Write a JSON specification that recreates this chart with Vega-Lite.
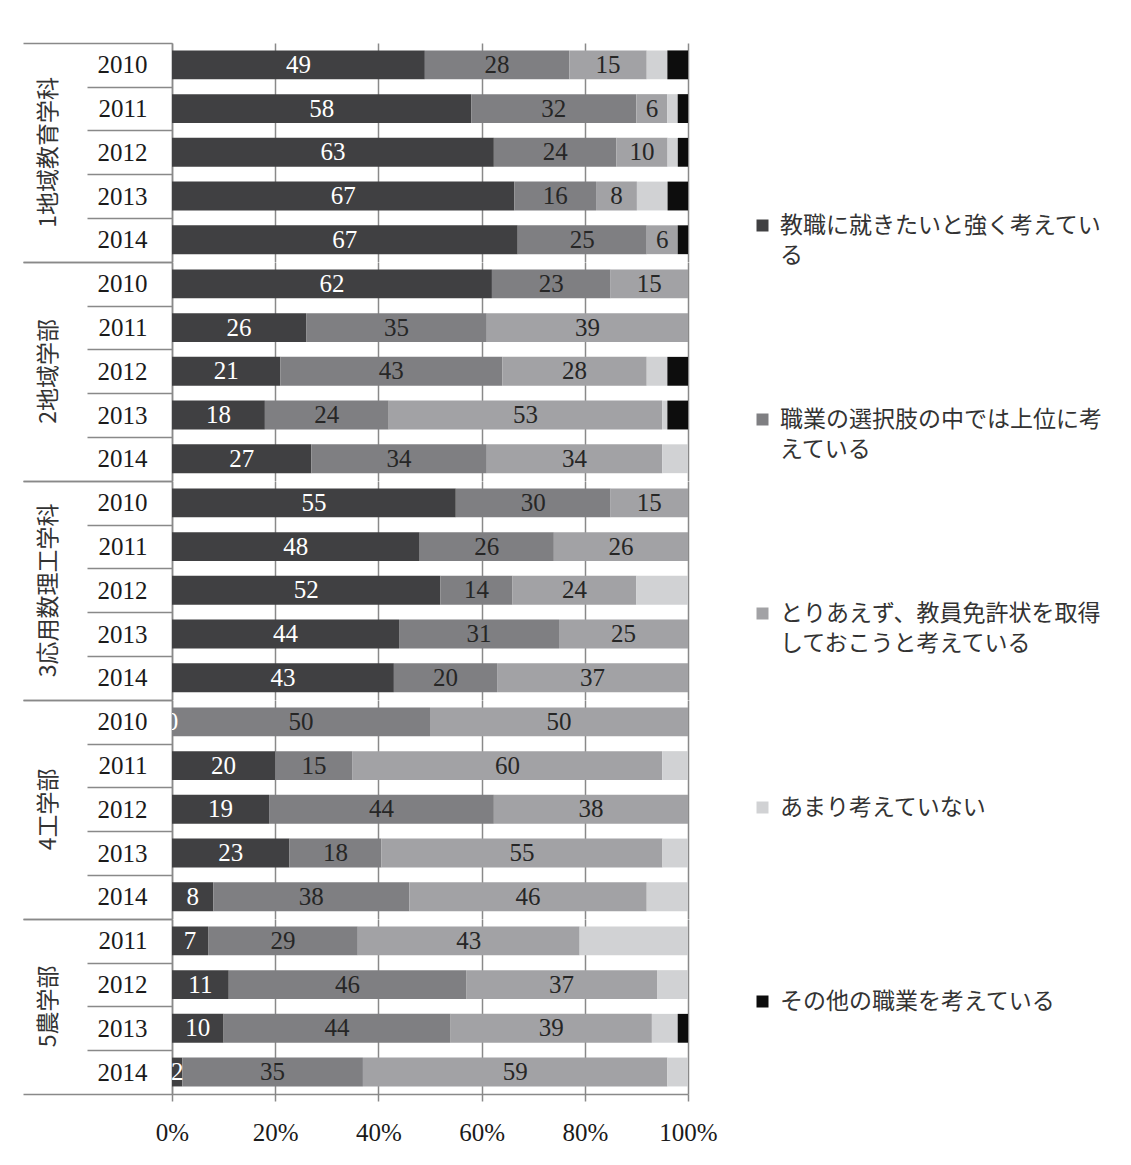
{
  "$schema": "https://vega.github.io/schema/vega-lite/v6.json",
  "background": "white",
  "padding": {"left": 22, "top": 42, "right": 0, "bottom": 10},
  "datasets": {
    "answers": [
      {"g": "1地域教育学科", "y": 2010, "k": 1, "v": 49}, {"g": "1地域教育学科", "y": 2010, "k": 2, "v": 28}, {"g": "1地域教育学科", "y": 2010, "k": 3, "v": 15}, {"g": "1地域教育学科", "y": 2010, "k": 4, "v": 4}, {"g": "1地域教育学科", "y": 2010, "k": 5, "v": 4},
      {"g": "1地域教育学科", "y": 2011, "k": 1, "v": 58}, {"g": "1地域教育学科", "y": 2011, "k": 2, "v": 32}, {"g": "1地域教育学科", "y": 2011, "k": 3, "v": 6}, {"g": "1地域教育学科", "y": 2011, "k": 4, "v": 2}, {"g": "1地域教育学科", "y": 2011, "k": 5, "v": 2},
      {"g": "1地域教育学科", "y": 2012, "k": 1, "v": 63}, {"g": "1地域教育学科", "y": 2012, "k": 2, "v": 24}, {"g": "1地域教育学科", "y": 2012, "k": 3, "v": 10}, {"g": "1地域教育学科", "y": 2012, "k": 4, "v": 2}, {"g": "1地域教育学科", "y": 2012, "k": 5, "v": 2},
      {"g": "1地域教育学科", "y": 2013, "k": 1, "v": 67}, {"g": "1地域教育学科", "y": 2013, "k": 2, "v": 16}, {"g": "1地域教育学科", "y": 2013, "k": 3, "v": 8}, {"g": "1地域教育学科", "y": 2013, "k": 4, "v": 6}, {"g": "1地域教育学科", "y": 2013, "k": 5, "v": 4},
      {"g": "1地域教育学科", "y": 2014, "k": 1, "v": 67}, {"g": "1地域教育学科", "y": 2014, "k": 2, "v": 25}, {"g": "1地域教育学科", "y": 2014, "k": 3, "v": 6}, {"g": "1地域教育学科", "y": 2014, "k": 5, "v": 2},
      {"g": "2地域学部", "y": 2010, "k": 1, "v": 62}, {"g": "2地域学部", "y": 2010, "k": 2, "v": 23}, {"g": "2地域学部", "y": 2010, "k": 3, "v": 15},
      {"g": "2地域学部", "y": 2011, "k": 1, "v": 26}, {"g": "2地域学部", "y": 2011, "k": 2, "v": 35}, {"g": "2地域学部", "y": 2011, "k": 3, "v": 39},
      {"g": "2地域学部", "y": 2012, "k": 1, "v": 21}, {"g": "2地域学部", "y": 2012, "k": 2, "v": 43}, {"g": "2地域学部", "y": 2012, "k": 3, "v": 28}, {"g": "2地域学部", "y": 2012, "k": 4, "v": 4}, {"g": "2地域学部", "y": 2012, "k": 5, "v": 4},
      {"g": "2地域学部", "y": 2013, "k": 1, "v": 18}, {"g": "2地域学部", "y": 2013, "k": 2, "v": 24}, {"g": "2地域学部", "y": 2013, "k": 3, "v": 53}, {"g": "2地域学部", "y": 2013, "k": 4, "v": 1}, {"g": "2地域学部", "y": 2013, "k": 5, "v": 4},
      {"g": "2地域学部", "y": 2014, "k": 1, "v": 27}, {"g": "2地域学部", "y": 2014, "k": 2, "v": 34}, {"g": "2地域学部", "y": 2014, "k": 3, "v": 34}, {"g": "2地域学部", "y": 2014, "k": 4, "v": 5},
      {"g": "3応用数理工学科", "y": 2010, "k": 1, "v": 55}, {"g": "3応用数理工学科", "y": 2010, "k": 2, "v": 30}, {"g": "3応用数理工学科", "y": 2010, "k": 3, "v": 15},
      {"g": "3応用数理工学科", "y": 2011, "k": 1, "v": 48}, {"g": "3応用数理工学科", "y": 2011, "k": 2, "v": 26}, {"g": "3応用数理工学科", "y": 2011, "k": 3, "v": 26},
      {"g": "3応用数理工学科", "y": 2012, "k": 1, "v": 52}, {"g": "3応用数理工学科", "y": 2012, "k": 2, "v": 14}, {"g": "3応用数理工学科", "y": 2012, "k": 3, "v": 24}, {"g": "3応用数理工学科", "y": 2012, "k": 4, "v": 10},
      {"g": "3応用数理工学科", "y": 2013, "k": 1, "v": 44}, {"g": "3応用数理工学科", "y": 2013, "k": 2, "v": 31}, {"g": "3応用数理工学科", "y": 2013, "k": 3, "v": 25},
      {"g": "3応用数理工学科", "y": 2014, "k": 1, "v": 43}, {"g": "3応用数理工学科", "y": 2014, "k": 2, "v": 20}, {"g": "3応用数理工学科", "y": 2014, "k": 3, "v": 37},
      {"g": "4工学部", "y": 2010, "k": 1, "v": 0}, {"g": "4工学部", "y": 2010, "k": 2, "v": 50}, {"g": "4工学部", "y": 2010, "k": 3, "v": 50},
      {"g": "4工学部", "y": 2011, "k": 1, "v": 20}, {"g": "4工学部", "y": 2011, "k": 2, "v": 15}, {"g": "4工学部", "y": 2011, "k": 3, "v": 60}, {"g": "4工学部", "y": 2011, "k": 4, "v": 5},
      {"g": "4工学部", "y": 2012, "k": 1, "v": 19}, {"g": "4工学部", "y": 2012, "k": 2, "v": 44}, {"g": "4工学部", "y": 2012, "k": 3, "v": 38},
      {"g": "4工学部", "y": 2013, "k": 1, "v": 23}, {"g": "4工学部", "y": 2013, "k": 2, "v": 18}, {"g": "4工学部", "y": 2013, "k": 3, "v": 55}, {"g": "4工学部", "y": 2013, "k": 4, "v": 5},
      {"g": "4工学部", "y": 2014, "k": 1, "v": 8}, {"g": "4工学部", "y": 2014, "k": 2, "v": 38}, {"g": "4工学部", "y": 2014, "k": 3, "v": 46}, {"g": "4工学部", "y": 2014, "k": 4, "v": 8},
      {"g": "5農学部", "y": 2011, "k": 1, "v": 7}, {"g": "5農学部", "y": 2011, "k": 2, "v": 29}, {"g": "5農学部", "y": 2011, "k": 3, "v": 43}, {"g": "5農学部", "y": 2011, "k": 4, "v": 21},
      {"g": "5農学部", "y": 2012, "k": 1, "v": 11}, {"g": "5農学部", "y": 2012, "k": 2, "v": 46}, {"g": "5農学部", "y": 2012, "k": 3, "v": 37}, {"g": "5農学部", "y": 2012, "k": 4, "v": 6},
      {"g": "5農学部", "y": 2013, "k": 1, "v": 10}, {"g": "5農学部", "y": 2013, "k": 2, "v": 44}, {"g": "5農学部", "y": 2013, "k": 3, "v": 39}, {"g": "5農学部", "y": 2013, "k": 4, "v": 5}, {"g": "5農学部", "y": 2013, "k": 5, "v": 2},
      {"g": "5農学部", "y": 2014, "k": 1, "v": 2}, {"g": "5農学部", "y": 2014, "k": 2, "v": 35}, {"g": "5農学部", "y": 2014, "k": 3, "v": 59}, {"g": "5農学部", "y": 2014, "k": 4, "v": 4}
    ],
    "series": [
      {"k": 1, "s": "教職に就きたいと強く考えている"},
      {"k": 2, "s": "職業の選択肢の中では上位に考えている"},
      {"k": 3, "s": "とりあえず、教員免許状を取得しておこうと考えている"},
      {"k": 4, "s": "あまり考えていない"},
      {"k": 5, "s": "その他の職業を考えている"}
    ]
  },
  "data": {"name": "answers"},
  "transform": [
    {"lookup": "k", "from": {"data": {"name": "series"}, "key": "k", "fields": ["s"]}}
  ],
  "facet": {
    "row": {
      "field": "g",
      "type": "nominal",
      "title": null,
      "header": {
        "labelAngle": -90,
        "labelOrient": "left",
        "labelAlign": "center",
        "labelFont": "Noto Sans CJK JP",
        "labelFontSize": 23,
        "labelColor": "#333333",
        "labelPadding": 100
      }
    }
  },
  "spacing": 0,
  "bounds": "flush",
  "resolve": {"scale": {"y": "independent"}},
  "spec": {
    "width": 516,
    "height": {"step": 43.72},
    "encoding": {
      "y": {
        "field": "y",
        "type": "ordinal",
        "title": null,
        "scale": {"paddingInner": 0, "paddingOuter": 0},
        "axis": {
          "domain": true,
          "ticks": true,
          "tickBand": "extent",
          "tickSize": {"condition": {"test": "datum.index === -1 || datum.index === 1", "value": 149}, "value": 85},
          "labelPadding": {"condition": {"test": "datum.index === 1", "value": -124}, "value": -60},
          "labelFontSize": {"condition": {"test": "datum.index === -1", "value": 0}, "value": 25},
          "labelAlign": "right",
          "labelBaseline": "middle"
        }
      }
    },
    "layer": [
      {
        "mark": {"type": "bar", "height": {"band": 0.66}},
        "encoding": {
          "x": {
            "field": "v",
            "type": "quantitative",
            "stack": "normalize",
            "title": null,
            "axis": {
              "values": [0, 0.2, 0.4, 0.6, 0.8, 1],
              "format": "%",
              "grid": true,
              "tickSize": 7,
              "labelPadding": 19,
              "labelFlush": false
            }
          },
          "color": {
            "field": "s",
            "type": "nominal",
            "sort": {"field": "k", "op": "min"},
            "scale": {"range": ["#404042", "#7f7f82", "#a2a2a5", "#d1d2d4", "#0d0d0d"]},
            "legend": {
              "orient": "none",
              "legendX": 579,
              "legendY": 171,
              "title": null,
              "symbolType": "square",
              "symbolSize": 144,
              "symbolStrokeWidth": 0,
              "labelFont": "Noto Sans CJK JP",
              "labelFontSize": 23,
              "labelColor": "#333333",
              "labelLimit": 400,
              "labelOffset": 6,
              "labelBaseline": "middle",
              "rowPadding": 140,
              "labelExpr": "[substring(datum.label, 0, 14), substring(datum.label, 14)]"
            }
          },
          "order": {"field": "k", "type": "quantitative"}
        }
      },
      {
        "mark": {"type": "text", "clip": true, "font": "Liberation Serif", "fontSize": 25, "baseline": "middle"},
        "encoding": {
          "x": {"field": "v", "type": "quantitative", "stack": "normalize", "bandPosition": 0.5, "title": null},
          "detail": {"field": "k", "type": "ordinal"},
          "order": {"field": "k", "type": "quantitative"},
          "text": {"field": "v", "type": "quantitative", "condition": {"test": "datum.k > 3", "value": ""}},
          "color": {"condition": {"test": "datum.k === 1", "value": "#ffffff"}, "value": "#262626"}
        }
      }
    ]
  },
  "config": {
    "view": {"stroke": null},
    "axis": {
      "domainColor": "#898989",
      "domainWidth": 1.5,
      "tickColor": "#898989",
      "tickWidth": 1.5,
      "gridColor": "#898989",
      "gridWidth": 1.5,
      "labelFont": "Liberation Serif",
      "labelFontSize": 25,
      "labelColor": "#1a1a1a"
    },
    "style": {"guide-label": {"lineHeight": 30}}
  }
}
